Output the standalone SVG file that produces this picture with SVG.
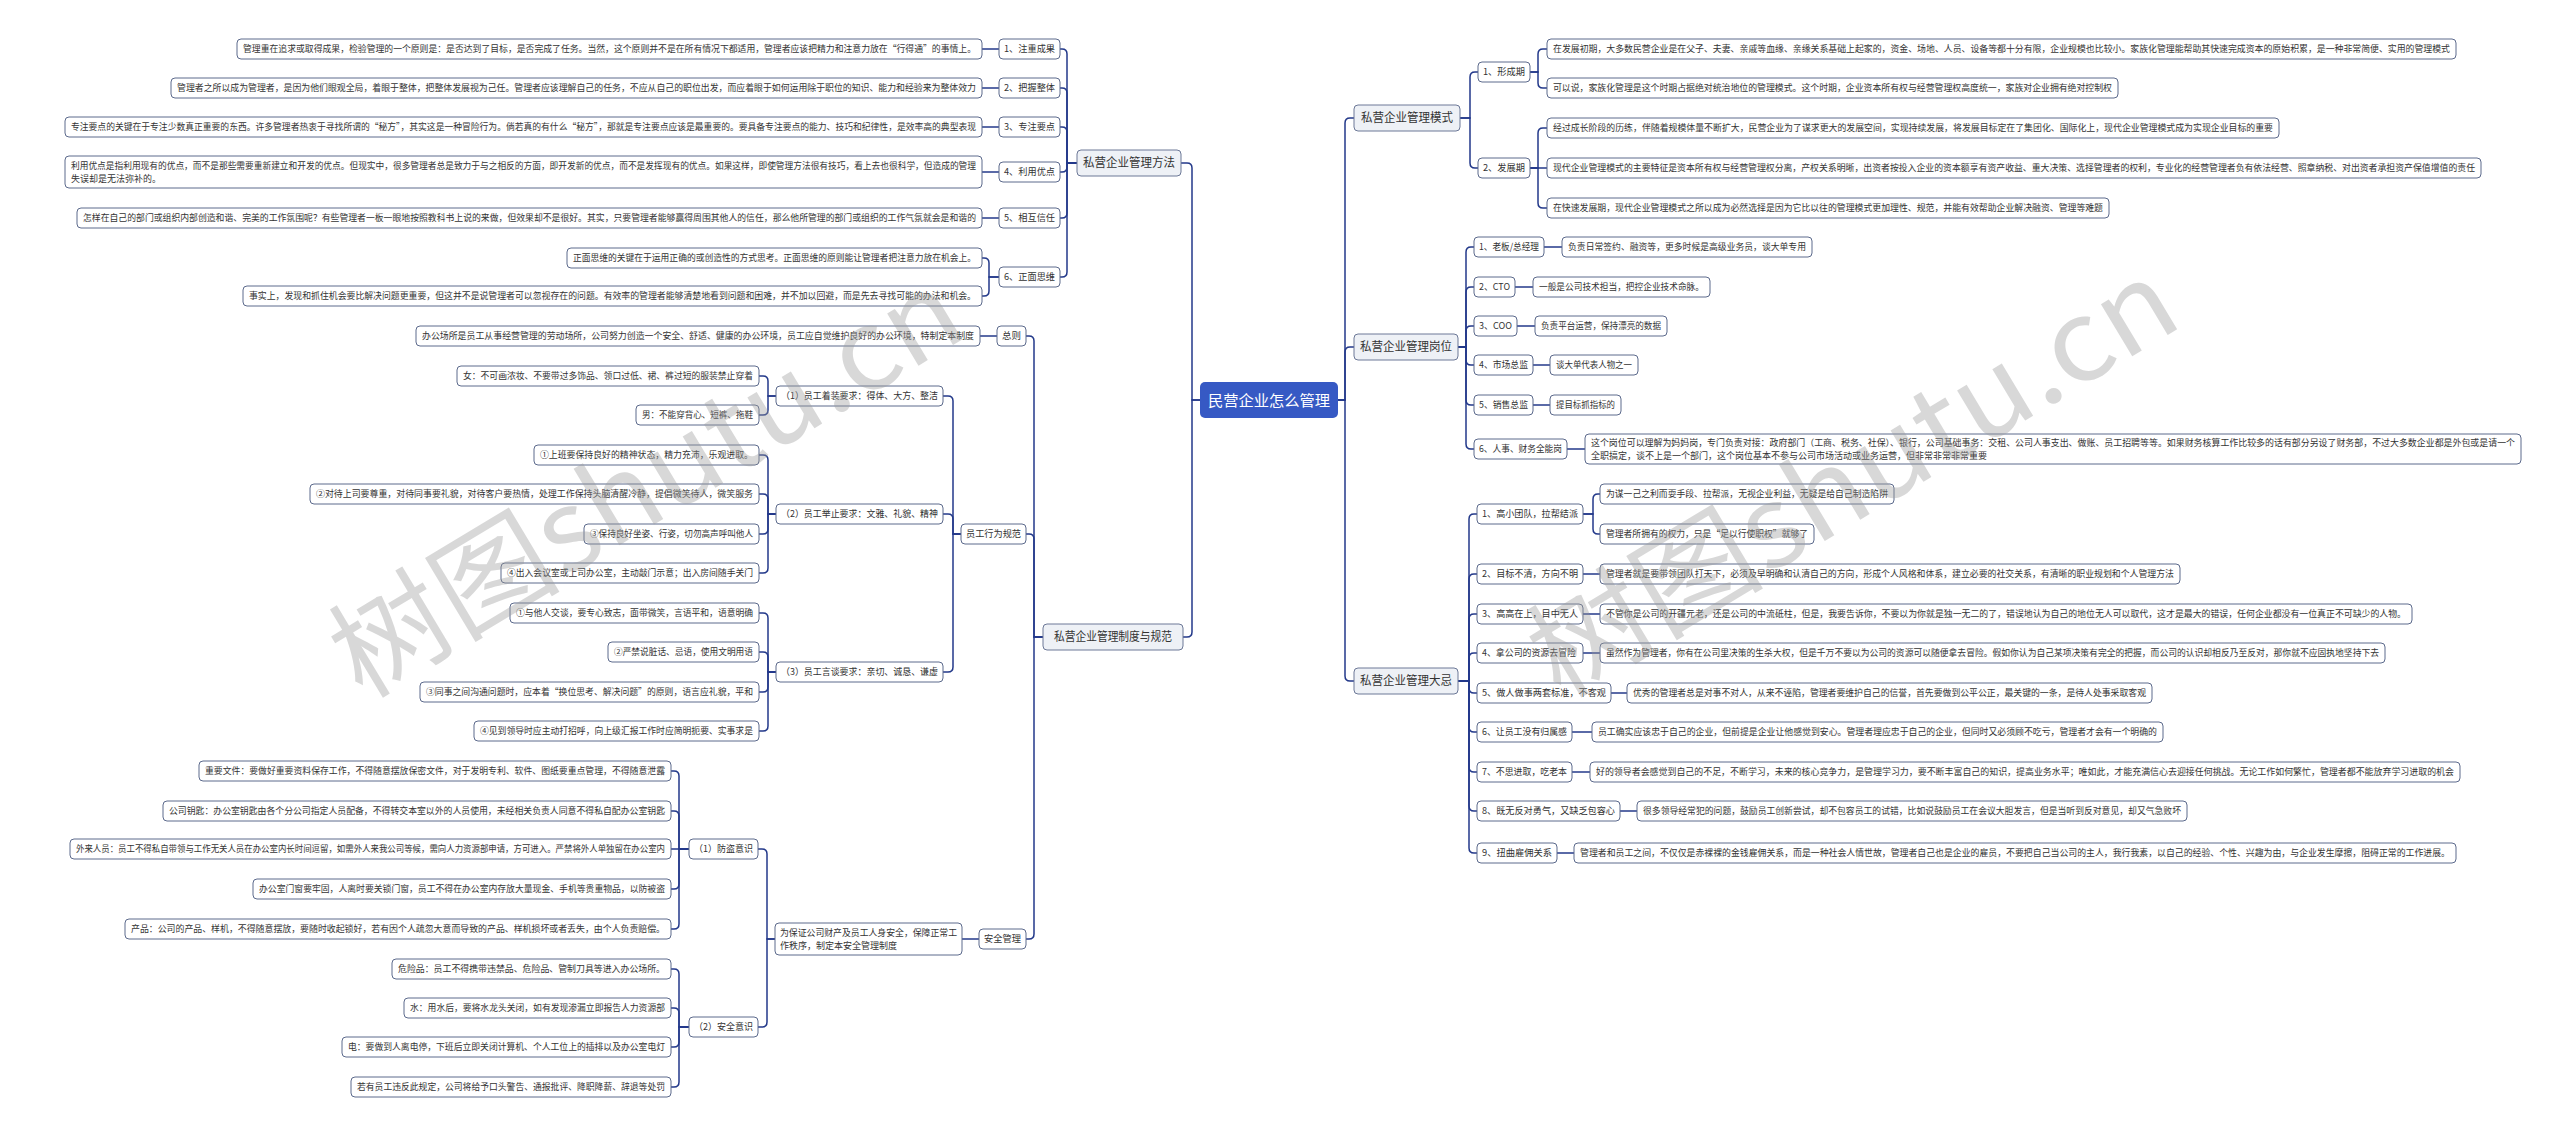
<svg xmlns="http://www.w3.org/2000/svg" width="2560" height="1135" viewBox="0 0 2560 1135">
<style>
text{font-family:"Noto Sans CJK SC","Noto Sans",sans-serif;fill:#333}
.leaf rect,.l2 rect{fill:#fff;stroke:#5c6a8c;stroke-width:1}
.leaf text{font-size:9px}
.l2 text{font-size:9.5px}
.l1 rect{fill:#eef1f6;stroke:#6c7897;stroke-width:1}
.l1 text{font-size:12px;text-anchor:middle}
.root rect{fill:#3659c4}
.root text{font-size:15px;fill:#fff;text-anchor:middle}
.conn path{fill:none;stroke:#23398a;stroke-width:1.5}
.wm{font-family:"Noto Sans CJK SC","Noto Sans",sans-serif;font-size:112px;fill:#9a9a9a;opacity:.38}
</style>
<rect width="2560" height="1135" fill="#fff"/>
<g id="connectors" class="conn">
<path d="M1200 400 H1192 V168 Q1192 163 1187 163 H1181"/>
<path d="M1200 400 H1192 V632 Q1192 637 1187 637 H1183"/>
<path d="M1338 400 H1345 V123 Q1345 118 1350 118 H1354"/>
<path d="M1338 400 H1345 V352 Q1345 347 1350 347 H1354"/>
<path d="M1338 400 H1345 V676 Q1345 681 1350 681 H1354"/>
<path d="M1077 163 H1067 V54 Q1067 49 1062 49 H1060"/>
<path d="M1077 163 H1067 V93 Q1067 88 1062 88 H1060"/>
<path d="M1077 163 H1067 V132 Q1067 127 1062 127 H1060"/>
<path d="M1077 163 H1067 V167 Q1067 172 1062 172 H1060"/>
<path d="M1077 163 H1067 V213 Q1067 218 1062 218 H1060"/>
<path d="M1077 163 H1067 V272 Q1067 277 1062 277 H1060"/>
<path d="M999 49 H982"/>
<path d="M999 88 H982"/>
<path d="M999 127 H982"/>
<path d="M999 172 H982"/>
<path d="M999 218 H982"/>
<path d="M999 277 H989 V263 Q989 258 984 258 H982"/>
<path d="M999 277 H989 V291 Q989 296 984 296 H982"/>
<path d="M1043 637 H1034 V341 Q1034 336 1029 336 H1026"/>
<path d="M1043 637 H1034 V539 Q1034 534 1029 534 H1026"/>
<path d="M1043 637 H1034 V934 Q1034 939 1029 939 H1026"/>
<path d="M997 336 H980"/>
<path d="M961 534 H953 V401 Q953 396 948 396 H943"/>
<path d="M961 534 H953 V519 Q953 514 948 514 H943"/>
<path d="M961 534 H953 V667 Q953 672 948 672 H943"/>
<path d="M776 396 H768 V381 Q768 376 763 376 H759"/>
<path d="M776 396 H768 V410 Q768 415 763 415 H759"/>
<path d="M776 514 H768 V460 Q768 455 763 455 H759"/>
<path d="M776 514 H768 V499 Q768 494 763 494 H759"/>
<path d="M776 514 H768 V529 Q768 534 763 534 H759"/>
<path d="M776 514 H768 V568 Q768 573 763 573 H759"/>
<path d="M776 672 H768 V618 Q768 613 763 613 H759"/>
<path d="M776 672 H768 V657 Q768 652 763 652 H759"/>
<path d="M776 672 H768 V687 Q768 692 763 692 H759"/>
<path d="M776 672 H768 V726 Q768 731 763 731 H759"/>
<path d="M979 939 H962"/>
<path d="M775 939 H767 V854 Q767 849 762 849 H758"/>
<path d="M775 939 H767 V1022 Q767 1027 762 1027 H758"/>
<path d="M689 849 H679 V776 Q679 771 674 771 H671"/>
<path d="M689 849 H679 V816 Q679 811 674 811 H671"/>
<path d="M689 849 H671"/>
<path d="M689 849 H679 V884 Q679 889 674 889 H671"/>
<path d="M689 849 H679 V924 Q679 929 674 929 H671"/>
<path d="M689 1027 H679 V974 Q679 969 674 969 H671"/>
<path d="M689 1027 H679 V1013 Q679 1008 674 1008 H671"/>
<path d="M689 1027 H679 V1042 Q679 1047 674 1047 H671"/>
<path d="M689 1027 H679 V1082 Q679 1087 674 1087 H671"/>
<path d="M1460 118 H1470 V77 Q1470 72 1475 72 H1478"/>
<path d="M1460 118 H1470 V163 Q1470 168 1475 168 H1478"/>
<path d="M1530 72 H1538 V54 Q1538 49 1543 49 H1547"/>
<path d="M1530 72 H1538 V83 Q1538 88 1543 88 H1547"/>
<path d="M1530 168 H1538 V133 Q1538 128 1543 128 H1547"/>
<path d="M1530 168 H1547"/>
<path d="M1530 168 H1538 V203 Q1538 208 1543 208 H1547"/>
<path d="M1458 347 H1466 V252 Q1466 247 1471 247 H1474"/>
<path d="M1458 347 H1466 V292 Q1466 287 1471 287 H1474"/>
<path d="M1458 347 H1466 V331 Q1466 326 1471 326 H1474"/>
<path d="M1458 347 H1466 V360 Q1466 365 1471 365 H1474"/>
<path d="M1458 347 H1466 V400 Q1466 405 1471 405 H1474"/>
<path d="M1458 347 H1466 V444 Q1466 449 1471 449 H1474"/>
<path d="M1544 247 H1562"/>
<path d="M1515 287 H1533"/>
<path d="M1517 326 H1535"/>
<path d="M1533 365 H1550"/>
<path d="M1533 405 H1550"/>
<path d="M1567 449 H1585"/>
<path d="M1458 681 H1469 V519 Q1469 514 1474 514 H1477"/>
<path d="M1458 681 H1469 V579 Q1469 574 1474 574 H1477"/>
<path d="M1458 681 H1469 V619 Q1469 614 1474 614 H1477"/>
<path d="M1458 681 H1469 V658 Q1469 653 1474 653 H1477"/>
<path d="M1458 681 H1469 V688 Q1469 693 1474 693 H1477"/>
<path d="M1458 681 H1469 V727 Q1469 732 1474 732 H1477"/>
<path d="M1458 681 H1469 V767 Q1469 772 1474 772 H1477"/>
<path d="M1458 681 H1469 V806 Q1469 811 1474 811 H1477"/>
<path d="M1458 681 H1469 V848 Q1469 853 1474 853 H1477"/>
<path d="M1583 514 H1593 V499 Q1593 494 1598 494 H1600"/>
<path d="M1583 514 H1593 V529 Q1593 534 1598 534 H1600"/>
<path d="M1583 574 H1600"/>
<path d="M1583 614 H1600"/>
<path d="M1583 653 H1600"/>
<path d="M1611 693 H1627"/>
<path d="M1572 732 H1592"/>
<path d="M1572 772 H1590"/>
<path d="M1620 811 H1637"/>
<path d="M1557 853 H1574"/>
</g>

<g id="root" class="root"><rect x="1200" y="382" width="138" height="36" rx="5"/><text x="1269" y="405.5" textLength="122" lengthAdjust="spacingAndGlyphs">民营企业怎么管理</text></g>

<g id="n-method" class="l1"><rect x="1077" y="150" width="104" height="26" rx="4"/><text x="1129" y="167.3" textLength="92" lengthAdjust="spacingAndGlyphs">私营企业管理方法</text></g>
<g id="n-rules" class="l1"><rect x="1043" y="624" width="140" height="26" rx="4"/><text x="1113" y="641.3" textLength="118" lengthAdjust="spacingAndGlyphs">私营企业管理制度与规范</text></g>
<g id="n-mode" class="l1"><rect x="1354" y="105" width="106" height="26" rx="4"/><text x="1407" y="122.3" textLength="92" lengthAdjust="spacingAndGlyphs">私营企业管理模式</text></g>
<g id="n-post" class="l1"><rect x="1354" y="334" width="104" height="26" rx="4"/><text x="1406" y="351.3" textLength="92" lengthAdjust="spacingAndGlyphs">私营企业管理岗位</text></g>
<g id="n-taboo" class="l1"><rect x="1354" y="668" width="104" height="26" rx="4"/><text x="1406" y="685.3" textLength="92" lengthAdjust="spacingAndGlyphs">私营企业管理大忌</text></g>

<g id="m1" class="l2"><rect x="999" y="39" width="61" height="20" rx="4"/><text x="1004" y="52.4" textLength="51" lengthAdjust="spacingAndGlyphs">1、注重成果</text></g>
<g id="m2" class="l2"><rect x="999" y="78" width="61" height="20" rx="4"/><text x="1004" y="91.4" textLength="51" lengthAdjust="spacingAndGlyphs">2、把握整体</text></g>
<g id="m3" class="l2"><rect x="999" y="117" width="61" height="20" rx="4"/><text x="1004" y="130.4" textLength="51" lengthAdjust="spacingAndGlyphs">3、专注要点</text></g>
<g id="m4" class="l2"><rect x="999" y="162" width="61" height="20" rx="4"/><text x="1004" y="175.4" textLength="51" lengthAdjust="spacingAndGlyphs">4、利用优点</text></g>
<g id="m5" class="l2"><rect x="999" y="208" width="61" height="20" rx="4"/><text x="1004" y="221.4" textLength="51" lengthAdjust="spacingAndGlyphs">5、相互信任</text></g>
<g id="m6" class="l2"><rect x="999" y="267" width="61" height="20" rx="4"/><text x="1004" y="280.4" textLength="51" lengthAdjust="spacingAndGlyphs">6、正面思维</text></g>

<g id="m1t" class="leaf"><rect x="237" y="39" width="745" height="20" rx="4"/><text x="243" y="52.2" textLength="733" lengthAdjust="spacingAndGlyphs">管理重在追求或取得成果，检验管理的一个原则是：是否达到了目标，是否完成了任务。当然，这个原则并不是在所有情况下都适用，管理者应该把精力和注意力放在“行得通”的事情上。</text></g>
<g id="m2t" class="leaf"><rect x="171" y="78" width="811" height="20" rx="4"/><text x="177" y="91.2" textLength="799" lengthAdjust="spacingAndGlyphs">管理者之所以成为管理者，是因为他们眼观全局，着眼于整体，把整体发展视为己任。管理者应该理解自己的任务，不应从自己的职位出发，而应着眼于如何运用除于职位的知识、能力和经验来为整体效力</text></g>
<g id="m3t" class="leaf"><rect x="65" y="117" width="917" height="20" rx="4"/><text x="71" y="130.2" textLength="905" lengthAdjust="spacingAndGlyphs">专注要点的关键在于专注少数真正重要的东西。许多管理者热衷于寻找所谓的“秘方”，其实这是一种冒险行为。倘若真的有什么“秘方”，那就是专注要点应该是最重要的。要具备专注要点的能力、技巧和纪律性，是效率高的典型表现</text></g>
<g id="m4t" class="leaf"><rect x="65" y="156" width="917" height="32" rx="4"/><text x="71" y="168.7" textLength="905" lengthAdjust="spacingAndGlyphs">利用优点是指利用现有的优点，而不是那些需要重新建立和开发的优点。但现实中，很多管理者总是致力于与之相反的方面，即开发新的优点，而不是发挥现有的优点。如果这样，即使管理方法很有技巧，看上去也很科学，但造成的管理</text><text x="71" y="182.2">失误却是无法弥补的。</text></g>
<g id="m5t" class="leaf"><rect x="77" y="208" width="905" height="20" rx="4"/><text x="83" y="221.2" textLength="893" lengthAdjust="spacingAndGlyphs">怎样在自己的部门或组织内部创造和谐、完美的工作氛围呢？有些管理者一板一眼地按照教科书上说的来做，但效果却不是很好。其实，只要管理者能够赢得周围其他人的信任，那么他所管理的部门或组织的工作气氛就会是和谐的</text></g>
<g id="m6a" class="leaf"><rect x="567" y="248" width="415" height="20" rx="4"/><text x="573" y="261.2" textLength="403" lengthAdjust="spacingAndGlyphs">正面思维的关键在于运用正确的或创造性的方式思考。正面思维的原则能让管理者把注意力放在机会上。</text></g>
<g id="m6b" class="leaf"><rect x="243" y="286" width="739" height="20" rx="4"/><text x="249" y="299.2" textLength="727" lengthAdjust="spacingAndGlyphs">事实上，发现和抓住机会要比解决问题更重要，但这并不是说管理者可以忽视存在的问题。有效率的管理者能够清楚地看到问题和困难，并不加以回避，而是先去寻找可能的办法和机会。</text></g>

<g id="r-general" class="l2"><rect x="997" y="326" width="29" height="20" rx="4"/><text x="1002" y="339.4" textLength="19" lengthAdjust="spacingAndGlyphs">总则</text></g>
<g id="r-general-t" class="leaf"><rect x="416" y="326" width="564" height="20" rx="4"/><text x="422" y="339.2" textLength="552" lengthAdjust="spacingAndGlyphs">办公场所是员工从事经营管理的劳动场所，公司努力创造一个安全、舒适、健康的办公环境，员工应自觉维护良好的办公环境，特制定本制度</text></g>
<g id="r-behav" class="l2"><rect x="961" y="524" width="65" height="20" rx="4"/><text x="966" y="537.4" textLength="55" lengthAdjust="spacingAndGlyphs">员工行为规范</text></g>
<g id="r-safe" class="l2"><rect x="979" y="929" width="47" height="20" rx="4"/><text x="984" y="942.4" textLength="37" lengthAdjust="spacingAndGlyphs">安全管理</text></g>

<g id="b1" class="l2"><rect x="776" y="386" width="167" height="20" rx="4"/><text x="781" y="399.4" textLength="157" lengthAdjust="spacingAndGlyphs">（1）员工着装要求：得体、大方、整洁</text></g>
<g id="b2" class="l2"><rect x="776" y="504" width="167" height="20" rx="4"/><text x="781" y="517.4" textLength="157" lengthAdjust="spacingAndGlyphs">（2）员工举止要求：文雅、礼貌、精神</text></g>
<g id="b3" class="l2"><rect x="776" y="662" width="167" height="20" rx="4"/><text x="781" y="675.4" textLength="157" lengthAdjust="spacingAndGlyphs">（3）员工言谈要求：亲切、诚恳、谦虚</text></g>

<g id="b1a" class="leaf"><rect x="457" y="366" width="302" height="20" rx="4"/><text x="463" y="379.2" textLength="290" lengthAdjust="spacingAndGlyphs">女：不可画浓妆、不要带过多饰品、领口过低、裙、裤过短的服装禁止穿着</text></g>
<g id="b1b" class="leaf"><rect x="636" y="405" width="123" height="20" rx="4"/><text x="642" y="418.2" textLength="111" lengthAdjust="spacingAndGlyphs">男：不能穿背心、短裤、拖鞋</text></g>
<g id="b2a" class="leaf"><rect x="534" y="445" width="225" height="20" rx="4"/><text x="540" y="458.2" textLength="213" lengthAdjust="spacingAndGlyphs">①上班要保持良好的精神状态，精力充沛，乐观进取。</text></g>
<g id="b2b" class="leaf"><rect x="310" y="484" width="449" height="20" rx="4"/><text x="316" y="497.2" textLength="437" lengthAdjust="spacingAndGlyphs">②对待上司要尊重，对待同事要礼貌，对待客户要热情，处理工作保持头脑清醒冷静，提倡微笑待人，微笑服务</text></g>
<g id="b2c" class="leaf"><rect x="584" y="524" width="175" height="20" rx="4"/><text x="590" y="537.2" textLength="163" lengthAdjust="spacingAndGlyphs">③保持良好坐姿、行姿，切勿高声呼叫他人</text></g>
<g id="b2d" class="leaf"><rect x="501" y="563" width="258" height="20" rx="4"/><text x="507" y="576.2" textLength="246" lengthAdjust="spacingAndGlyphs">④出入会议室或上司办公室，主动敲门示意；出入房间随手关门</text></g>
<g id="b3a" class="leaf"><rect x="510" y="603" width="249" height="20" rx="4"/><text x="516" y="616.2" textLength="237" lengthAdjust="spacingAndGlyphs">①与他人交谈，要专心致志，面带微笑，言语平和，语意明确</text></g>
<g id="b3b" class="leaf"><rect x="608" y="642" width="151" height="20" rx="4"/><text x="614" y="655.2" textLength="139" lengthAdjust="spacingAndGlyphs">②严禁说脏话、忌语，使用文明用语</text></g>
<g id="b3c" class="leaf"><rect x="420" y="682" width="339" height="20" rx="4"/><text x="426" y="695.2" textLength="327" lengthAdjust="spacingAndGlyphs">③同事之间沟通问题时，应本着“换位思考、解决问题”的原则，语言应礼貌，平和</text></g>
<g id="b3d" class="leaf"><rect x="474" y="721" width="285" height="20" rx="4"/><text x="480" y="734.2" textLength="273" lengthAdjust="spacingAndGlyphs">④见到领导时应主动打招呼，向上级汇报工作时应简明扼要、实事求是</text></g>

<g id="s0" class="leaf"><rect x="775" y="923" width="187" height="32" rx="4"/><text x="780" y="935.7" textLength="177" lengthAdjust="spacingAndGlyphs">为保证公司财产及员工人身安全，保障正常工</text><text x="780" y="949.2">作秩序，制定本安全管理制度</text></g>
<g id="s1" class="l2"><rect x="689" y="839" width="69" height="20" rx="4"/><text x="694" y="852.4" textLength="59" lengthAdjust="spacingAndGlyphs">（1）防盗意识</text></g>
<g id="s2" class="l2"><rect x="689" y="1017" width="69" height="20" rx="4"/><text x="694" y="1030.4" textLength="59" lengthAdjust="spacingAndGlyphs">（2）安全意识</text></g>
<g id="s1a" class="leaf"><rect x="199" y="761" width="472" height="20" rx="4"/><text x="205" y="774.2" textLength="460" lengthAdjust="spacingAndGlyphs">重要文件：要做好重要资料保存工作，不得随意摆放保密文件，对于发明专利、软件、图纸要重点管理，不得随意泄露</text></g>
<g id="s1b" class="leaf"><rect x="163" y="801" width="508" height="20" rx="4"/><text x="169" y="814.2" textLength="496" lengthAdjust="spacingAndGlyphs">公司钥匙：办公室钥匙由各个分公司指定人员配备，不得转交本室以外的人员使用，未经相关负责人同意不得私自配办公室钥匙</text></g>
<g id="s1c" class="leaf"><rect x="70" y="839" width="601" height="20" rx="4"/><text x="76" y="852.2" textLength="589" lengthAdjust="spacingAndGlyphs">外来人员：员工不得私自带领与工作无关人员在办公室内长时间逗留，如需外人来我公司等候，需向人力资源部申请，方可进入。严禁将外人单独留在办公室内</text></g>
<g id="s1d" class="leaf"><rect x="253" y="879" width="418" height="20" rx="4"/><text x="259" y="892.2" textLength="406" lengthAdjust="spacingAndGlyphs">办公室门窗要牢固，人离时要关锁门窗，员工不得在办公室内存放大量现金、手机等贵重物品，以防被盗</text></g>
<g id="s1e" class="leaf"><rect x="125" y="919" width="546" height="20" rx="4"/><text x="131" y="932.2" textLength="534" lengthAdjust="spacingAndGlyphs">产品：公司的产品、样机，不得随意摆放，要随时收起锁好，若有因个人疏忽大意而导致的产品、样机损坏或者丢失，由个人负责赔偿。</text></g>
<g id="s2a" class="leaf"><rect x="392" y="959" width="279" height="20" rx="4"/><text x="398" y="972.2" textLength="267" lengthAdjust="spacingAndGlyphs">危险品：员工不得携带违禁品、危险品、管制刀具等进入办公场所。</text></g>
<g id="s2b" class="leaf"><rect x="404" y="998" width="267" height="20" rx="4"/><text x="410" y="1011.2" textLength="255" lengthAdjust="spacingAndGlyphs">水：用水后，要将水龙头关闭，如有发现渗漏立即报告人力资源部</text></g>
<g id="s2c" class="leaf"><rect x="342" y="1037" width="329" height="20" rx="4"/><text x="348" y="1050.2" textLength="317" lengthAdjust="spacingAndGlyphs">电：要做到人离电停，下班后立即关闭计算机、个人工位上的插排以及办公室电灯</text></g>
<g id="s2d" class="leaf"><rect x="351" y="1077" width="320" height="20" rx="4"/><text x="357" y="1090.2" textLength="308" lengthAdjust="spacingAndGlyphs">若有员工违反此规定，公司将给予口头警告、通报批评、降职降薪、辞退等处罚</text></g>

<g id="mo1" class="l2"><rect x="1478" y="62" width="52" height="20" rx="4"/><text x="1483" y="75.4" textLength="42" lengthAdjust="spacingAndGlyphs">1、形成期</text></g>
<g id="mo2" class="l2"><rect x="1478" y="158" width="52" height="20" rx="4"/><text x="1483" y="171.4" textLength="42" lengthAdjust="spacingAndGlyphs">2、发展期</text></g>
<g id="mo1a" class="leaf"><rect x="1547" y="39" width="909" height="20" rx="4"/><text x="1553" y="52.2" textLength="897" lengthAdjust="spacingAndGlyphs">在发展初期，大多数民营企业是在父子、夫妻、亲戚等血缘、亲缘关系基础上起家的，资金、场地、人员、设备等都十分有限，企业规模也比较小。家族化管理能帮助其快速完成资本的原始积累，是一种非常简便、实用的管理模式</text></g>
<g id="mo1b" class="leaf"><rect x="1547" y="78" width="571" height="20" rx="4"/><text x="1553" y="91.2" textLength="559" lengthAdjust="spacingAndGlyphs">可以说，家族化管理是这个时期占据绝对统治地位的管理模式。这个时期，企业资本所有权与经营管理权高度统一，家族对企业拥有绝对控制权</text></g>
<g id="mo2a" class="leaf"><rect x="1547" y="118" width="732" height="20" rx="4"/><text x="1553" y="131.2" textLength="720" lengthAdjust="spacingAndGlyphs">经过成长阶段的历练，伴随着规模体量不断扩大，民营企业为了谋求更大的发展空间，实现持续发展，将发展目标定在了集团化、国际化上，现代企业管理模式成为实现企业目标的重要</text></g>
<g id="mo2b" class="leaf"><rect x="1547" y="158" width="934" height="20" rx="4"/><text x="1553" y="171.2" textLength="922" lengthAdjust="spacingAndGlyphs">现代企业管理模式的主要特征是资本所有权与经营管理权分离，产权关系明晰，出资者按投入企业的资本额享有资产收益、重大决策、选择管理者的权利，专业化的经营管理者负有依法经营、照章纳税、对出资者承担资产保值增值的责任</text></g>
<g id="mo2c" class="leaf"><rect x="1547" y="198" width="562" height="20" rx="4"/><text x="1553" y="211.2" textLength="550" lengthAdjust="spacingAndGlyphs">在快速发展期，现代企业管理模式之所以成为必然选择是因为它比以往的管理模式更加理性、规范，并能有效帮助企业解决融资、管理等难题</text></g>

<g id="p1" class="l2"><rect x="1474" y="237" width="70" height="20" rx="4"/><text x="1479" y="250.4" textLength="60" lengthAdjust="spacingAndGlyphs">1、老板/总经理</text></g>
<g id="p2" class="l2"><rect x="1474" y="277" width="41" height="20" rx="4"/><text x="1479" y="290.4" textLength="31" lengthAdjust="spacingAndGlyphs">2、CTO</text></g>
<g id="p3" class="l2"><rect x="1474" y="316" width="43" height="20" rx="4"/><text x="1479" y="329.4" textLength="33" lengthAdjust="spacingAndGlyphs">3、COO</text></g>
<g id="p4" class="l2"><rect x="1474" y="355" width="59" height="20" rx="4"/><text x="1479" y="368.4" textLength="49" lengthAdjust="spacingAndGlyphs">4、市场总监</text></g>
<g id="p5" class="l2"><rect x="1474" y="395" width="59" height="20" rx="4"/><text x="1479" y="408.4" textLength="49" lengthAdjust="spacingAndGlyphs">5、销售总监</text></g>
<g id="p6" class="l2"><rect x="1474" y="439" width="93" height="20" rx="4"/><text x="1479" y="452.4" textLength="83" lengthAdjust="spacingAndGlyphs">6、人事、财务全能岗</text></g>
<g id="p1t" class="leaf"><rect x="1562" y="237" width="250" height="20" rx="4"/><text x="1568" y="250.2" textLength="238" lengthAdjust="spacingAndGlyphs">负责日常签约、融资等，更多时候是高级业务员，谈大单专用</text></g>
<g id="p2t" class="leaf"><rect x="1533" y="277" width="177" height="20" rx="4"/><text x="1539" y="290.2" textLength="165" lengthAdjust="spacingAndGlyphs">一般是公司技术担当，把控企业技术命脉。</text></g>
<g id="p3t" class="leaf"><rect x="1535" y="316" width="132" height="20" rx="4"/><text x="1541" y="329.2" textLength="120" lengthAdjust="spacingAndGlyphs">负责平台运营，保持漂亮的数据</text></g>
<g id="p4t" class="leaf"><rect x="1550" y="355" width="88" height="20" rx="4"/><text x="1556" y="368.2" textLength="76" lengthAdjust="spacingAndGlyphs">谈大单代表人物之一</text></g>
<g id="p5t" class="leaf"><rect x="1550" y="395" width="71" height="20" rx="4"/><text x="1556" y="408.2" textLength="59" lengthAdjust="spacingAndGlyphs">提目标抓指标的</text></g>
<g id="p6t" class="leaf"><rect x="1585" y="434" width="936" height="30" rx="4"/><text x="1591" y="445.7" textLength="924" lengthAdjust="spacingAndGlyphs">这个岗位可以理解为妈妈岗，专门负责对接：政府部门（工商、税务、社保）、银行，公司基础事务：交租、公司人事支出、做账、员工招聘等等。如果财务核算工作比较多的话有部分另设了财务部，不过大多数企业都是外包或是请一个</text><text x="1591" y="459.2">全职搞定，谈不上是一个部门，这个岗位基本不参与公司市场活动或业务运营，但非常非常非常重要</text></g>

<g id="d1" class="l2"><rect x="1477" y="504" width="106" height="20" rx="4"/><text x="1482" y="517.4" textLength="96" lengthAdjust="spacingAndGlyphs">1、高小团队，拉帮结派</text></g>
<g id="d2" class="l2"><rect x="1477" y="564" width="106" height="20" rx="4"/><text x="1482" y="577.4" textLength="96" lengthAdjust="spacingAndGlyphs">2、目标不清，方向不明</text></g>
<g id="d3" class="l2"><rect x="1477" y="604" width="106" height="20" rx="4"/><text x="1482" y="617.4" textLength="96" lengthAdjust="spacingAndGlyphs">3、高高在上，目中无人</text></g>
<g id="d4" class="l2"><rect x="1477" y="643" width="106" height="20" rx="4"/><text x="1482" y="656.4" textLength="94" lengthAdjust="spacingAndGlyphs">4、拿公司的资源去冒险</text></g>
<g id="d5" class="l2"><rect x="1477" y="683" width="134" height="20" rx="4"/><text x="1482" y="696.4" textLength="124" lengthAdjust="spacingAndGlyphs">5、做人做事两套标准，不客观</text></g>
<g id="d6" class="l2"><rect x="1477" y="722" width="95" height="20" rx="4"/><text x="1482" y="735.4" textLength="85" lengthAdjust="spacingAndGlyphs">6、让员工没有归属感</text></g>
<g id="d7" class="l2"><rect x="1477" y="762" width="95" height="20" rx="4"/><text x="1482" y="775.4" textLength="85" lengthAdjust="spacingAndGlyphs">7、不思进取，吃老本</text></g>
<g id="d8" class="l2"><rect x="1477" y="801" width="143" height="20" rx="4"/><text x="1482" y="814.4" textLength="133" lengthAdjust="spacingAndGlyphs">8、既无反对勇气，又缺乏包容心</text></g>
<g id="d9" class="l2"><rect x="1477" y="843" width="80" height="20" rx="4"/><text x="1482" y="856.4" textLength="70" lengthAdjust="spacingAndGlyphs">9、扭曲雇佣关系</text></g>
<g id="d1a" class="leaf"><rect x="1600" y="484" width="294" height="20" rx="4"/><text x="1606" y="497.2" textLength="282" lengthAdjust="spacingAndGlyphs">为谋一己之利而耍手段、拉帮派，无视企业利益，无疑是给自己制造陷阱</text></g>
<g id="d1b" class="leaf"><rect x="1600" y="524" width="214" height="20" rx="4"/><text x="1606" y="537.2" textLength="202" lengthAdjust="spacingAndGlyphs">管理者所拥有的权力，只是“足以行使职权”就够了</text></g>
<g id="d2t" class="leaf"><rect x="1600" y="564" width="580" height="20" rx="4"/><text x="1606" y="577.2" textLength="568" lengthAdjust="spacingAndGlyphs">管理者就是要带领团队打天下，必须及早明确和认清自己的方向，形成个人风格和体系，建立必要的社交关系，有清晰的职业规划和个人管理方法</text></g>
<g id="d3t" class="leaf"><rect x="1600" y="604" width="812" height="20" rx="4"/><text x="1606" y="617.2" textLength="800" lengthAdjust="spacingAndGlyphs">不管你是公司的开疆元老，还是公司的中流砥柱，但是，我要告诉你，不要以为你就是独一无二的了，错误地认为自己的地位无人可以取代，这才是最大的错误，任何企业都没有一位真正不可缺少的人物。</text></g>
<g id="d4t" class="leaf"><rect x="1600" y="643" width="785" height="20" rx="4"/><text x="1606" y="656.2" textLength="773" lengthAdjust="spacingAndGlyphs">虽然作为管理者，你有在公司里决策的生杀大权，但是千万不要以为公司的资源可以随便拿去冒险。假如你认为自己某项决策有完全的把握，而公司的认识却相反乃至反对，那你就不应固执地坚持下去</text></g>
<g id="d5t" class="leaf"><rect x="1627" y="683" width="525" height="20" rx="4"/><text x="1633" y="696.2" textLength="513" lengthAdjust="spacingAndGlyphs">优秀的管理者总是对事不对人，从来不诬陷，管理者要维护自己的信誉，首先要做到公平公正，最关键的一条，是待人处事采取客观</text></g>
<g id="d6t" class="leaf"><rect x="1592" y="722" width="571" height="20" rx="4"/><text x="1598" y="735.2" textLength="559" lengthAdjust="spacingAndGlyphs">员工确实应该忠于自己的企业，但前提是企业让他感觉到安心。管理者理应忠于自己的企业，但同时又必须顾不吃亏，管理者才会有一个明确的</text></g>
<g id="d7t" class="leaf"><rect x="1590" y="762" width="870" height="20" rx="4"/><text x="1596" y="775.2" textLength="858" lengthAdjust="spacingAndGlyphs">好的领导者会感觉到自己的不足，不断学习，未来的核心竞争力，是管理学习力，要不断丰富自己的知识，提高业务水平；唯如此，才能充满信心去迎接任何挑战。无论工作如何繁忙，管理者都不能放弃学习进取的机会</text></g>
<g id="d8t" class="leaf"><rect x="1637" y="801" width="550" height="20" rx="4"/><text x="1643" y="814.2" textLength="538" lengthAdjust="spacingAndGlyphs">很多领导经常犯的问题，鼓励员工创新尝试，却不包容员工的试错，比如说鼓励员工在会议大胆发言，但是当听到反对意见，却又气急败坏</text></g>
<g id="d9t" class="leaf"><rect x="1574" y="843" width="882" height="20" rx="4"/><text x="1580" y="856.2" textLength="870" lengthAdjust="spacingAndGlyphs">管理者和员工之间，不仅仅是赤裸裸的金钱雇佣关系，而是一种社会人情世故，管理者自己也是企业的雇员，不要把自己当公司的主人，我行我素，以自己的经验、个性、兴趣为由，与企业发生摩擦，阻碍正常的工作进展。</text></g>

<g id="watermark">
<text class="wm" transform="translate(362,700) rotate(-31)" textLength="710" lengthAdjust="spacingAndGlyphs">树图shutu.cn</text>
<text class="wm" transform="translate(1560,700) rotate(-31)" textLength="730" lengthAdjust="spacingAndGlyphs">树图shutu.cn</text>
</g>
</svg>
